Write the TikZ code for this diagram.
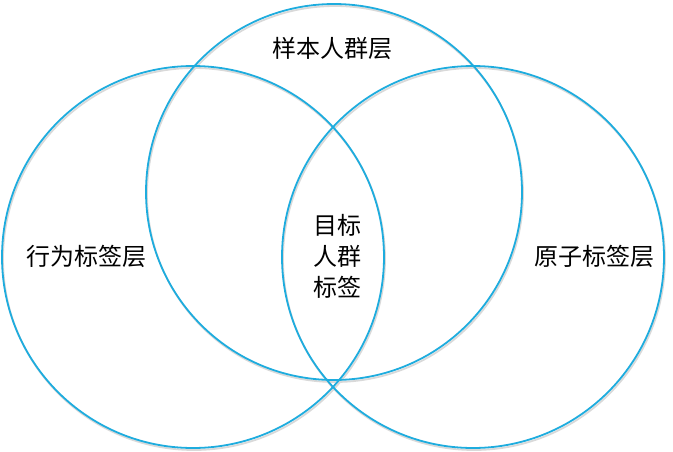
\documentclass[tikz,border=0pt]{standalone}
\usepackage{fontspec}
\setmainfont{Noto Sans CJK SC}
\definecolor{ringblue}{RGB}{30,172,222}
\begin{document}
\begin{tikzpicture}[x=1pt,y=-1pt,
    ring/.style={draw=ringblue, line width=1.8pt},
    ringshadow/.style={draw=black!15, line width=1.8pt},
    lbl/.style={font=\fontsize{24}{31}\selectfont, align=center, inner sep=0pt}
]
\useasboundingbox (0,0) rectangle (673,451);
% shadows
\draw[ringshadow] (335,194) circle (188);
\draw[ringshadow] (194,259) circle (191);
\draw[ringshadow] (474,259) circle (191);
% circles
\draw[ring] (334,192) circle (188);
\draw[ring] (193,257) circle (191);
\draw[ring] (473,257) circle (191);
% labels
\node[lbl] (sample) at (332,48) {样本人群层};
\node[lbl] (behave) at (87,256) {行为标签层};
\node[lbl] (atom) at (594,256) {原子标签层};
\node[lbl] (target) at (337,256) {目标\\人群\\标签};
\end{tikzpicture}
\end{document}
